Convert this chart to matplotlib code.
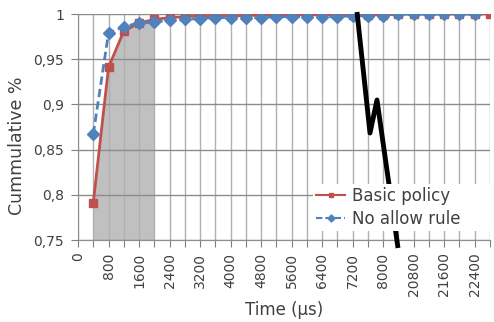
import matplotlib
matplotlib.use("Agg")
import matplotlib.pyplot as plt
import numpy as np

categories = ["0", "400", "800", "1200", "1600", "2000", "2400", "2800", "3200", "3600",
              "4000", "4400", "4800", "5200", "5600", "6000", "6400", "6800", "7200", "7600",
              "8000", "20400", "20800", "21200", "21600", "22000", "22400", "22800"]
basic_policy = [None, 0.791, 0.941, 0.981, 0.990, 0.994, 0.996, 0.997, 0.998, 0.998,
                0.998, 0.998, 0.999, 0.999, 0.999, 0.999, 0.999, 0.999, 0.999, 0.999,
                0.999, 1.0, 1.0, 1.0, 1.0, 1.0, 1.0, 1.0]
no_allow_rule = [None, 0.867, 0.979, 0.986, 0.990, 0.991, 0.993, 0.994, 0.995, 0.996,
                 0.996, 0.996, 0.996, 0.997, 0.997, 0.997, 0.997, 0.997, 0.998, 0.998,
                 0.998, 1.0, 1.0, 1.0, 1.0, 1.0, 1.0, None]
yticks = [0.75, 0.8, 0.85, 0.9, 0.95, 1.0]
ytick_labels = ["0,75", "0,8", "0,85", "0,9", "0,95", "1"]
shade_range = (1, 5)

W, H = 494, 322
fig = plt.figure(figsize=(W / 100, H / 100), dpi=100)
ax = fig.add_axes([78 / W, 1 - 240 / H, (490 - 78) / W, (240 - 14) / H])

x = np.arange(len(categories))
red = np.array([np.nan if v is None else v for v in basic_policy])
blue = np.array([np.nan if v is None else v for v in no_allow_rule])

s0, s1 = shade_range
ax.fill_between(x[s0:s1 + 1], 0.75, red[s0:s1 + 1], color="#c0c0c0", lw=0, zorder=1)

ax.plot(x, red, color="#c0504d", lw=2.0, marker="s", ms=6, mec="#c0504d",
        mfc="#c0504d", label="Basic policy", zorder=3)
ax.plot(x, blue, color="#4f81bd", lw=2.0, ls=(0, (3, 1.5)), marker="D", ms=6,
        mec="#4f81bd", mfc="#4f81bd", label="No allow rule", zorder=4)

ax.set_xlim(0, len(categories) - 1)
ax.set_ylim(0.75, 1.0)
ax.set_xticks(x)
ax.set_xticklabels([c if i % 2 == 0 else "" for i, c in enumerate(categories)],
                   rotation=90, fontsize=10, color="#404040")
ax.set_yticks(yticks)
ax.set_yticklabels(ytick_labels, fontsize=10, color="#404040")
ax.tick_params(axis="x", length=5, color="#808080", pad=4)
ax.tick_params(axis="y", length=5, color="#808080", pad=5)

ax.set_axisbelow("line")
ax.grid(axis="x", color="#b0b0b0", lw=1)
ax.grid(axis="y", color="#8c8c8c", lw=1)
for s in ["top", "right"]:
    ax.spines[s].set_visible(False)
for s in ["left", "bottom"]:
    ax.spines[s].set_color("#8c8c8c")

ax.set_xlabel("Time (µs)", fontsize=12, color="#404040", labelpad=3)
ax.set_ylabel("Cummulative %", fontsize=12.5, color="#404040")
ax.yaxis.set_label_coords(-0.126, 0.415)

# axis break mark (figure pixel coordinates)
bx = np.array([357, 370, 377, 398])
by = np.array([12, 133, 100, 248])
brk = plt.Line2D(bx / W, 1 - by / H, color="black", lw=3.5, zorder=5,
                 solid_capstyle="butt", transform=fig.transFigure, clip_on=False)
ax.add_line(brk)

leg = ax.legend(loc="lower left", bbox_to_anchor=(0.57, 0.038, 0.43, 0.2), mode="expand",
                fontsize=12, frameon=True, facecolor="white", edgecolor="none",
                framealpha=1, borderpad=0.2, handlelength=1.75, handletextpad=0.4,
                labelspacing=0.3, markerscale=0.6, fancybox=False, borderaxespad=0.0)
leg.set_zorder(10)
for line in leg.get_lines():
    line.set_linewidth(1.5)
for t in leg.get_texts():
    t.set_color("#404040")

fig.savefig("out.png", dpi=100)
